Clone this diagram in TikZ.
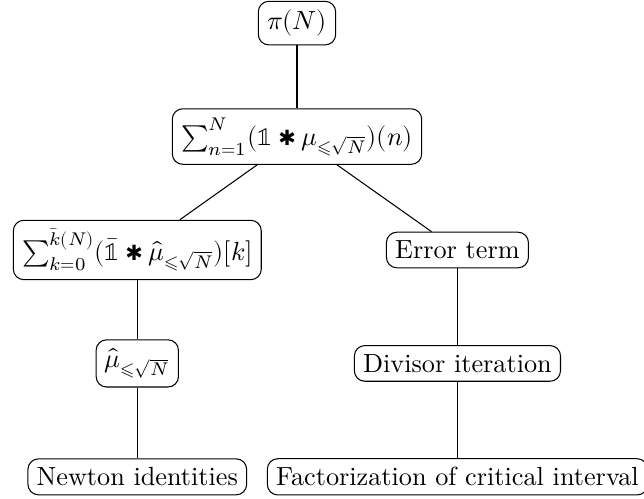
\documentclass[tikz,border=0pt]{standalone}
\usepackage{amsmath}
\usepackage{unicode-math}
\setmathfont{Latin Modern Math}
\newfontfamily\symfont{DejaVu Sans}
\newcommand{\conv}{\mathbin{\text{\symfont\footnotesize ✱}}}
\usetikzlibrary{positioning}

\begin{document}
\begin{tikzpicture}[node distance=1.52cm]
  \tikzstyle{box}=[draw=black,rounded corners,text=black]
  \useasboundingbox (-3.98,0.31) rectangle (4.65,-6.37);

  \node[box] (pi)                                {$\pi(N)$};
  \node[box] (sum)    [below of=pi]              {$\sum_{n=1}^N(\mathbb{1}\conv\mu_{\leqslant\sqrt{N}})(n)$};
  \node[box] (sumk)   [below of=sum,xshift=-2.14cm] {$\sum_{k=0}^{\bar{k}(N)}(\bar{\mathbb{1}}\conv\hat{\mu}_{\leqslant\sqrt{N}})[k]$};
  \node[box] (err)    [below of=sum,xshift=2.15cm]  {Error term};
  \node[box] (muhat)  [below of=sumk]            {$\hat{\mu}_{\leqslant\sqrt{N}}$};
  \node[box] (div)    [below of=err]             {Divisor iteration};
  \node[box] (newton) [below of=muhat]           {Newton identities};
  \node[box] (fact)   [below of=div]             {Factorization of critical interval};

  \path
  (pi) edge (sum)
  (sum) edge (sumk)
  edge (err)
  (sumk) edge (muhat)
  (muhat) edge (newton)
  (err) edge (div)
  (div) edge (fact);
\end{tikzpicture}
\end{document}
